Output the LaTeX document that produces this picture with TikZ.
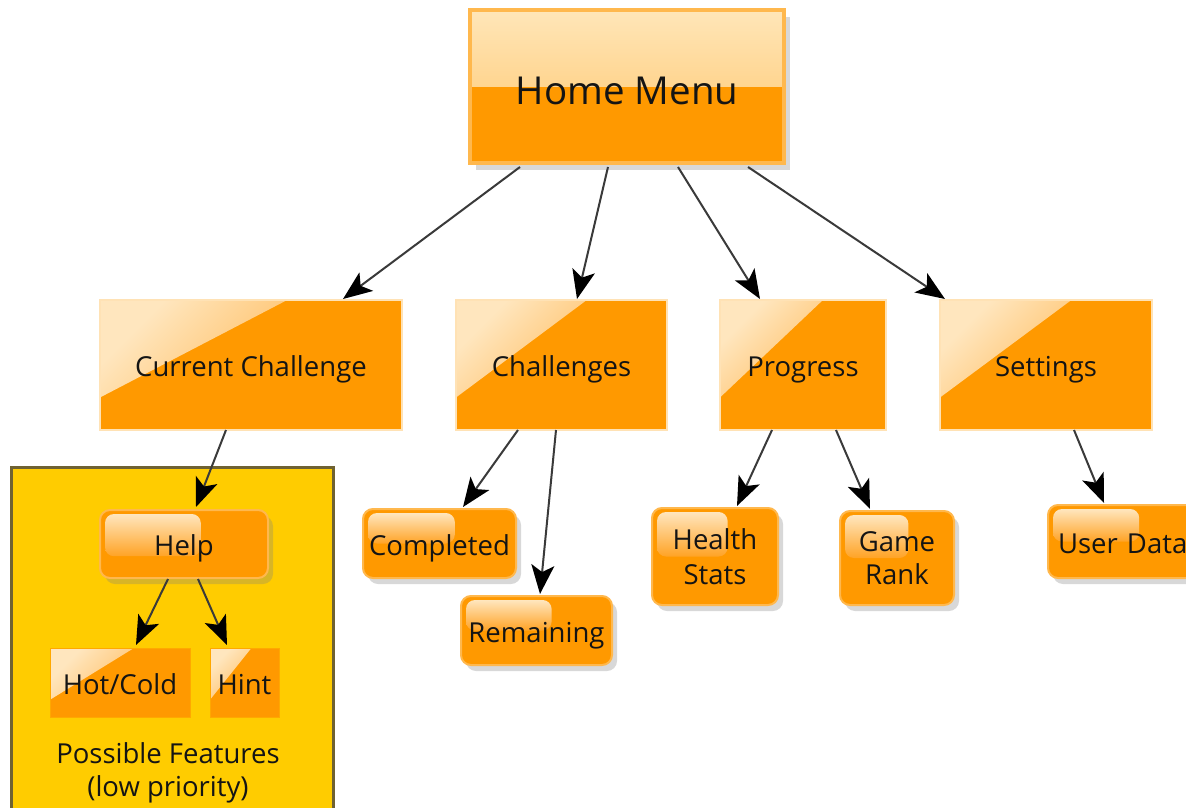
\documentclass[tikz,border=0pt]{standalone}
\usepackage{fontspec}
\setmainfont{Open Sans}
\usetikzlibrary{shadows,arrows.meta,calc}
\definecolor{orA}{HTML}{FF9900}
\definecolor{orB}{HTML}{FFB84D}
\definecolor{orC}{HTML}{FFE2B5}
\definecolor{glossT}{HTML}{FFE6BE}
\definecolor{glossB}{HTML}{FFA325}
\definecolor{homeT}{HTML}{FFE6B8}
\definecolor{homeM}{HTML}{FFC468}
\definecolor{yel}{HTML}{FFCC00}
\definecolor{yelB}{HTML}{6F6232}
\definecolor{ink}{HTML}{141414}
\definecolor{lineC}{HTML}{3A3A3A}
\tikzset{
  lbl/.style={font=\fontsize{27.5}{35}\selectfont, text=ink, inner sep=0pt, outer sep=0pt},
  oneline/.style={text height=23pt, text depth=0pt},
  glossdiag/.style={path picture={
    \shade[top color=glossT, bottom color=glossB, shading angle=45]
      (path picture bounding box.north west)
      -- ($(path picture bounding box.north west)!#1!(path picture bounding box.north east)$)
      -- ($(path picture bounding box.north west)!0.75!(path picture bounding box.south west)$)
      -- cycle;}},
  glossround/.style={path picture={
    \coordinate (gpA) at ($(path picture bounding box.north west)+(5pt,-4pt)$);
    \coordinate (gpB) at ($(path picture bounding box.north west)!0.6!(path picture bounding box.north east)$);
    \coordinate (gpC) at ($(path picture bounding box.north west)!#1!(path picture bounding box.south west)$);
    \shade[top color=glossT, bottom color=glossB, rounded corners=9pt]
      (gpA) rectangle (gpB |- gpC);}},
  homebox/.style={lbl, fill=orA, draw=orB, line width=3.5pt,
    font=\fontsize{38.5}{42}\selectfont, text height=35pt, text depth=0pt,
    drop shadow={opacity=0.3, shadow xshift=6pt, shadow yshift=-7pt},
    path picture={\shade[top color=homeT, bottom color=homeM]
      (path picture bounding box.north west) rectangle (path picture bounding box.east);}},
  topbox/.style={lbl, oneline, fill=orA, draw=orC, line width=2pt, glossdiag=0.62},
  subbox/.style={lbl, fill=orA, draw=orB, line width=2pt, rounded corners=10pt,
    drop shadow={opacity=0.3, shadow xshift=5pt, shadow yshift=-6pt}, glossround=0.5},
  featbox/.style={lbl, oneline, fill=orA, draw=orA!70!yel, line width=1pt, glossdiag=0.6},
  panel/.style={fill=yel, draw=yelB, line width=2.5pt},
  conn/.style={draw=lineC, line width=2pt,
    -{Stealth[length=29pt, width=23pt, inset=7pt, color=black]}},
}
\begin{document}
\begin{tikzpicture}[x=1pt,y=-1pt]
\useasboundingbox (0,0) rectangle (1186,808);
\fill[white] (0,0) rectangle (1186,808);

% yellow panel
\node[panel, minimum width=322pt, minimum height=360pt, anchor=north west, inner sep=0pt] (panel) at (10,466) {};

% root
\node[homebox, minimum width=314pt, minimum height=153pt] (home) at (627,86.5) {Home Menu};

% level 1
\node[topbox, minimum width=302pt, minimum height=130pt] (cc) at (251,365) {Current Challenge};
\node[topbox, minimum width=211pt, minimum height=130pt] (ch) at (561.5,365) {Challenges};
\node[topbox, minimum width=166pt, minimum height=130pt] (pr) at (803,365) {Progress};
\node[topbox, minimum width=212pt, minimum height=130pt] (st) at (1046,365) {Settings};

% level 2
\node[subbox, oneline, minimum width=168pt, minimum height=68pt, glossround=0.68] (help) at (184,544) {Help};
\node[subbox, oneline, minimum width=153pt, minimum height=69pt] (comp) at (439.5,543.5) {Completed};
\node[subbox, oneline, minimum width=151pt, minimum height=69pt] (rem) at (536.5,630.5) {Remaining};
\node[subbox, align=center, minimum width=126pt, minimum height=97pt] (hs) at (715,556.5) {Health\\Stats};
\node[subbox, align=center, minimum width=114pt, minimum height=94pt, font=\fontsize{27.5}{32.5}\selectfont] (gr) at (897,558) {Game\\Rank};
\node[subbox, oneline, minimum width=152pt, minimum height=73pt, text width=132pt, align=left, inner xsep=10pt] (ud) at (1124,541.5) {User Data};

% features inside panel
\node[featbox, minimum width=140pt, minimum height=69pt] (hc) at (120,682.5) {Hot/Cold};
\node[featbox, minimum width=69pt, minimum height=69pt] (hint) at (244.5,682.5) {Hint};
\node[lbl, align=center, font=\fontsize{27.5}{32.5}\selectfont] (pf) at (168,773) {Possible Features\\(low priority)};

% connectors
\draw[conn] ([xshift=-107pt,yshift=-4pt]home.south) -- ([xshift=92pt,yshift=1pt]cc.north);
\draw[conn] ([xshift=-19pt,yshift=-4pt]home.south) -- ([xshift=15.5pt,yshift=1pt]ch.north);
\draw[conn] ([xshift=51pt,yshift=-4pt]home.south) -- ([xshift=-43pt,yshift=1pt]pr.north);
\draw[conn] ([xshift=121pt,yshift=-4pt]home.south) -- ([xshift=-101pt,yshift=1pt]st.north);
\draw[conn] ([xshift=-25pt]cc.south) -- ([xshift=12pt,yshift=3pt]help.north);
\draw[conn] ([xshift=-43.5pt]ch.south) -- ([xshift=23.5pt,yshift=2pt]comp.north);
\draw[conn] ([xshift=-5.5pt]ch.south) -- ([xshift=3.5pt,yshift=2pt]rem.north);
\draw[conn] ([xshift=-31pt]pr.south) -- ([xshift=22pt,yshift=2pt]hs.north);
\draw[conn] ([xshift=33pt]pr.south) -- ([xshift=-27pt,yshift=2pt]gr.north);
\draw[conn] ([xshift=28pt]st.south) -- ([xshift=-20pt,yshift=2pt]ud.north);
\draw[conn] ([xshift=-16pt,yshift=-1pt]help.south) -- ([xshift=16pt,yshift=3pt]hc.north);
\draw[conn] ([xshift=14pt,yshift=-1pt]help.south) -- ([xshift=-17.5pt,yshift=3pt]hint.north);
\end{tikzpicture}
\end{document}
